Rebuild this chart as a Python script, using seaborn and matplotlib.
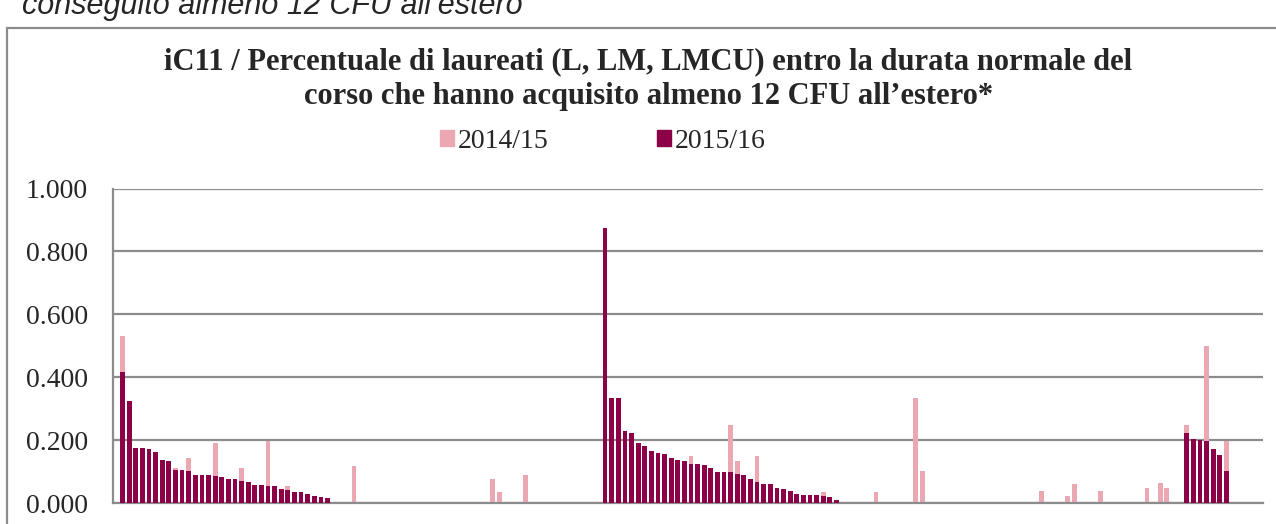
import numpy as np
import pandas as pd
import matplotlib
matplotlib.use('Agg')
import matplotlib.pyplot as plt
import seaborn as sns
from matplotlib.patches import Patch, Rectangle

N = None

# percentuale per corso di studio, ordinato come nel grafico (168 corsi)
anno_1415 = [
    0.533, N, N, N, N, N, N, N, 0.111, N, 0.143, N,
    N, N, 0.192, N, N, N, 0.111, N, N, N, 0.198, N,
    N, 0.055, N, N, N, N, N, N, N, N, N, 0.120,
    N, N, N, N, N, N, N, N, N, N, N, N,
    N, N, N, N, N, N, N, N, 0.077, 0.037, N, N,
    N, 0.090, N, N, N, N, N, N, N, N, N, N,
    N, N, N, N, N, N, N, N, N, N, N, N,
    N, N, 0.149, N, N, N, N, N, 0.249, 0.133, N, N,
    0.150, N, N, N, N, N, N, N, N, N, 0.036, N,
    N, N, N, N, N, N, 0.035, N, N, N, N, N,
    0.333, 0.104, N, N, N, N, N, N, N, N, N, N,
    N, N, N, N, N, N, N, 0.039, N, N, N, 0.022,
    0.061, N, N, N, 0.038, N, N, N, N, N, N, 0.048,
    N, 0.065, 0.049, N, N, 0.249, N, N, 0.501, N, N, 0.197,
]
anno_1516 = [
    0.418, 0.326, 0.176, 0.176, 0.172, 0.163, 0.136, 0.134, 0.107, 0.105, 0.103, 0.091,
    0.090, 0.090, 0.087, 0.083, 0.076, 0.076, 0.072, 0.067, 0.058, 0.058, 0.055, 0.054,
    0.047, 0.041, 0.037, 0.035, 0.030, 0.023, 0.021, 0.017, N, N, N, N,
    N, N, N, N, N, N, N, N, N, N, N, N,
    N, N, N, N, N, N, N, N, N, N, N, N,
    N, N, N, N, N, N, N, N, N, N, N, N,
    N, 0.873, 0.334, 0.334, 0.231, 0.222, 0.190, 0.181, 0.167, 0.160, 0.156, 0.143,
    0.137, 0.133, 0.124, 0.124, 0.121, 0.111, 0.100, 0.100, 0.100, 0.094, 0.090, 0.076,
    0.068, 0.060, 0.060, 0.050, 0.045, 0.039, 0.028, 0.027, 0.027, 0.027, 0.024, 0.020,
    0.011, N, N, N, N, N, N, N, N, N, N, N,
    N, N, N, N, N, N, N, N, N, N, N, N,
    N, N, N, N, N, N, N, N, N, N, N, N,
    N, N, N, N, N, N, N, N, N, N, N, N,
    N, N, N, N, N, 0.224, 0.204, 0.202, 0.198, 0.172, 0.152, 0.103,
]
corsi = [str(i) for i in range(1, len(anno_1516) + 1)]
serie = ['2014/15', '2015/16']
y_ticks = [0.0, 0.2, 0.4, 0.6, 0.8, 1.0]

col_1415 = '#EBA8B3'
col_1516 = '#8B0046'

df = pd.DataFrame({'corso': corsi,
                   '2014/15': pd.to_numeric(pd.Series(anno_1415), errors='coerce'),
                   '2015/16': pd.to_numeric(pd.Series(anno_1516), errors='coerce')})

sns.set_style('white')
plt.rcParams['font.family'] = ['Liberation Serif', 'DejaVu Serif']

fig = plt.figure(figsize=(12.76, 5.24), dpi=100)
ax = fig.add_axes([112.7 / 1276, 1 - 503.3 / 524, 1150 / 1276, 314.8 / 524])

# barre sovrapposte (2015/16 davanti a 2014/15)
sns.barplot(data=df, x='corso', y='2014/15', order=corsi, color=col_1415,
            width=0.72, errorbar=None, ax=ax, zorder=2, linewidth=0, saturation=1)
sns.barplot(data=df, x='corso', y='2015/16', order=corsi, color=col_1516,
            width=0.72, errorbar=None, ax=ax, zorder=3, linewidth=0, saturation=1)

ax.set_xlim(-1.5, len(corsi) + 4.5)
ax.set_ylim(0, 1.0)
ax.set_xticks([])
ax.set_xlabel('')
ax.set_ylabel('')
ax.set_yticks(y_ticks)
ax.set_yticklabels(['%.3f' % v for v in y_ticks])
ax.tick_params(axis='y', length=0, pad=18, labelsize=20)
ax.yaxis.grid(True, color='#8c8c8c', linewidth=1.6, zorder=0)
ax.set_axisbelow(True)
for s in ['top', 'right']:
    ax.spines[s].set_visible(False)
for s in ['left', 'bottom']:
    ax.spines[s].set_color('#8c8c8c')
    ax.spines[s].set_linewidth(1.6)

# bordo dell'area grafico
fig.patches.append(Rectangle((7 / 1276, -0.1), 1.2, 1.1 - 28 / 524,
                             transform=fig.transFigure, fill=False,
                             edgecolor='#8c8c8c', linewidth=1.6))

fig.text(0.508, 1 - 79 / 524,
         'iC11 / Percentuale di laureati (L, LM, LMCU) entro la durata normale del\n'
         'corso che hanno acquisito almeno 12 CFU all\u2019estero*',
         ha='center', va='center', fontsize=22, fontweight='bold', linespacing=1.25)

fig.text(22 / 1276, 1 - 14 / 524, 'conseguito almeno 12 CFU all\u2019estero',
         family=['Liberation Sans', 'DejaVu Sans'], style='italic', fontsize=22,
         va='baseline', ha='left')

handles = [Patch(color=col_1415), Patch(color=col_1516)]
fig.legend(handles, serie, loc='center', bbox_to_anchor=(603 / 1276, 1 - 141 / 524),
           ncol=2, frameon=False, fontsize=20, handlelength=0.5, handleheight=0.5,
           handletextpad=0.15, columnspacing=3.9)

fig.savefig('out.png', dpi=100)
